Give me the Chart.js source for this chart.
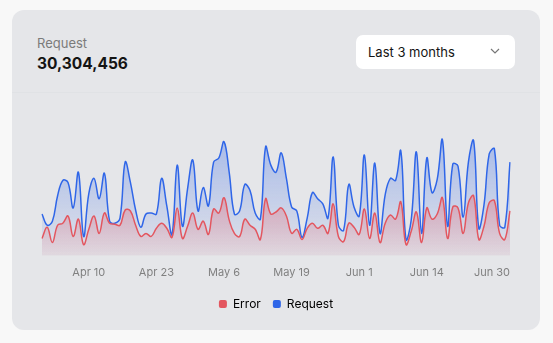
<!DOCTYPE html>
<html>
<head>
<meta charset="utf-8">
<script src="https://cdn.jsdelivr.net/npm/chart.js@4"></script>
<style>
  html, body { margin: 0; padding: 0; background: #f8f8f8; font-family: Inter, "Noto Sans", sans-serif; }
  .card { position: absolute; left: 12px; top: 10px; width: 528px; height: 320px; background: #e5e6e9; border-radius: 12px; overflow: hidden; }
  .label { position: absolute; left: 25px; top: 25px; font-size: 13px; color: #7b7b7b; }
  .total { position: absolute; left: 25px; top: 44px; font-size: 15.5px; font-weight: 700; color: #141414; }
  .select { position: absolute; left: 344px; top: 25px; width: 159px; height: 34px; background: #fff; border-radius: 7px; }
  .select span { position: absolute; left: 12px; top: 9px; font-size: 13px; color: #141414; }
  .select svg { position: absolute; right: 15px; top: 13px; }
  .sep { position: absolute; left: 0; right: 0; top: 82px; height: 1px; background: #e0e2e5; }
  .wrap { position: absolute; left: 0; top: 83px; width: 528px; height: 237px; }
</style>
</head>
<body>
<div class="card">
  <div class="label">Request</div>
  <div class="total">30,304,456</div>
  <div class="select"><span>Last 3 months</span>
    <svg width="10" height="6" viewBox="0 0 10 6"><path d="M1 1 L5 5 L9 1" fill="none" stroke="#777" stroke-width="1.2"/></svg>
  </div>
  <div class="sep"></div>
  <div class="wrap"><canvas id="chart" width="528" height="237"></canvas></div>
</div>
<script>
// one point per day, Apr 1 - Jun 30
const months = ['Apr', 'May', 'Jun'];
const monthDays = [30, 31, 30];
const shownTicks = ['Apr 10', 'Apr 23', 'May 6', 'May 19', 'Jun 1', 'Jun 14', 'Jun 30'];

const requestData = [
  41, 30, 34, 59, 74, 72, 47, 82, 19, 61, 76, 56, 81, 34, 32,
  37, 92, 72, 45, 28, 41, 42, 41, 76, 49, 21, 89, 29, 66, 94,
  44, 67, 49, 92, 96, 112, 82, 41, 44, 70, 64, 42, 36, 107, 89,
  82, 101, 76, 48, 44, 18, 37, 62, 56, 51, 37, 97, 30, 25, 70,
  48, 39, 99, 30, 91, 22, 60, 76, 74, 103, 16, 35, 102, 22, 96,
  62, 75, 114, 29, 90, 88, 38, 92, 113, 27, 50, 100, 105, 30, 28, 92
];
const errorData = [
  17, 28, 13, 30, 32, 39, 19, 36, 11, 26, 39, 22, 42, 32, 31,
  30, 45, 44, 30, 19, 22, 19, 27, 32, 27, 18, 47, 17, 29, 42,
  26, 34, 21, 46, 42, 57, 35, 22, 19, 36, 30, 26, 16, 56, 41,
  43, 47, 39, 22, 26, 16, 27, 32, 27, 30, 22, 51, 19, 14, 32,
  28, 21, 46, 17, 42, 13, 32, 40, 36, 53, 11, 24, 43, 13, 47,
  36, 41, 57, 17, 48, 47, 22, 52, 59, 16, 29, 52, 54, 22, 16, 44
];

const labels = [];
months.forEach((m, i) => {
  for (let d = 1; d <= monthDays[i]; d++) labels.push(m + ' ' + d);
});

// vertical fade, stops = [[offset, alpha], ...]
function gradient(rgb, stops) {
  return (context) => {
    const { ctx, chartArea } = context.chart;
    if (!chartArea) return null;
    const g = ctx.createLinearGradient(0, chartArea.top, 0, chartArea.bottom);
    stops.forEach(([o, a]) => g.addColorStop(o, `rgba(${rgb}, ${a})`));
    return g;
  };
}

const ctx = document.getElementById('chart').getContext('2d');
new Chart(ctx, {
  type: 'line',
  data: {
    labels: labels,
    datasets: [{
      label: 'Error',
      data: errorData,
      borderColor: '#e3565f',
      backgroundColor: gradient('236, 96, 106', [[0, 0.6], [0.55, 0.42], [1, 0.07]]),
      fill: 'origin',
      borderWidth: 1.5,
      tension: 0.4,
      pointRadius: 0
    }, {
      label: 'Request',
      data: requestData,
      borderColor: '#2f66e8',
      backgroundColor: gradient('59, 108, 232', [[0, 0.45], [1, 0.03]]),
      fill: 'origin',
      borderWidth: 1.5,
      tension: 0.4,
      pointRadius: 0
    }]
  },
  options: {
    responsive: false,
    animation: false,
    layout: { padding: { left: 30, right: 30, top: 10, bottom: 10 } },
    scales: {
      x: {
        grid: { display: false },
        border: { display: false },
        afterFit: (scale) => { scale.height += 5; },
        ticks: {
          autoSkip: false,
          maxRotation: 0,
          align: 'inner',
          color: '#808080',
          font: { family: 'Inter', size: 11 },
          padding: 2,
          callback: function (value, index) {
            const l = labels[index];
            return shownTicks.includes(l) ? l : '';
          }
        }
      },
      y: {
        display: false,
        min: 0,
        max: 150
      }
    },
    plugins: {
      tooltip: { enabled: false },
      legend: {
        position: 'bottom',
        labels: {
          boxWidth: 8,
          boxHeight: 8,
          padding: 12,
          color: '#222',
          font: { family: 'Inter', size: 12 },
          useBorderRadius: true,
          borderRadius: 2,
          generateLabels: (chart) => chart.data.datasets.map((ds, i) => ({
            text: ds.label,
            fillStyle: ds.borderColor,
            strokeStyle: ds.borderColor,
            lineWidth: 0,
            borderRadius: 2,
            datasetIndex: i
          }))
        }
      }
    }
  }
});
</script>
</body>
</html>
